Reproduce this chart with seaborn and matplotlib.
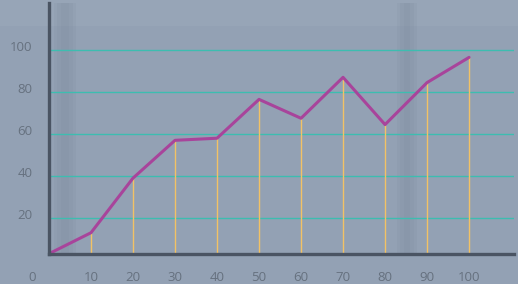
import matplotlib
matplotlib.use("Agg")
import matplotlib.pyplot as plt
import matplotlib.transforms as mtransforms
import seaborn as sns
import pandas as pd

# data
x_vals = [0, 10, 20, 30, 40, 50, 60, 70, 80, 90, 100]
y_vals = [3, 13, 39, 57, 58, 76.5, 67.5, 87, 64.5, 84.5, 96.5]
y_ticks = [20, 40, 60, 80, 100]
x_ticks = [0, 10, 20, 30, 40, 50, 60, 70, 80, 90, 100]

bg = "#93a1b4"
txt = "#66717f"
axis_col = "#4a5463"

sns.set_theme(style="white")
plt.rcParams["font.family"] = ["Open Sans", "DejaVu Sans"]

df = pd.DataFrame({"x": x_vals, "y": y_vals})

fig = plt.figure(figsize=(5.18, 2.84), dpi=100, facecolor=bg)
W, H = 518, 284
fig.patches.append(plt.Rectangle((0, 258 / H), 1, 26 / H, transform=fig.transFigure,
                                 color="#a3afbf", alpha=0.3, lw=0, zorder=-5))
ax = fig.add_axes([49 / W, (284 - 254) / H, 465 / W, 251 / H])
ax.set_facecolor("none")
ax.set_zorder(2)

# soft darker bands of the blurred backdrop (stacked for a blurry edge)
for c, hw in [(3.8, 2.6), (3.8, 1.8), (3.8, 1.0)]:
    ax.axvspan(c - hw, c + hw, color="#7a8798", alpha=0.12, lw=0, zorder=0, clip_on=False)
for c, hw in [(85.2, 2.4), (85.2, 1.6), (85.2, 0.8)]:
    ax.axvspan(c - hw, c + hw, color="#7a8798", alpha=0.12, lw=0, zorder=0, clip_on=False)

y0 = 2.86
ax.vlines(df["x"][1:], y0, df["y"][1:], color="#f2c266", lw=1.0, zorder=1)
sns.lineplot(data=df, x="x", y="y", ax=ax, color="#a8449b", lw=2.2, zorder=3)

ax.set_xlim(0, 110.7)
ax.set_ylim(y0, 122.4)
ax.set_yticks(y_ticks)
ax.set_xticks(x_ticks)
ax.grid(axis="y", color="#3dbdb0", lw=1.0, zorder=0)
ax.grid(axis="x", visible=False)
ax.set_xlabel("")
ax.set_ylabel("")

for s in ["top", "right"]:
    ax.spines[s].set_visible(False)
for s in ["left", "bottom"]:
    ax.spines[s].set_color(axis_col)
    ax.spines[s].set_linewidth(2.4)
    ax.spines[s].set_zorder(4)

ax.tick_params(axis="both", length=0, labelsize=9.5, labelcolor=txt)
ax.tick_params(axis="y", pad=12)
ax.tick_params(axis="x", pad=12)

up = mtransforms.ScaledTranslation(0, 4 / 100, fig.dpi_scale_trans)
for lab in ax.get_yticklabels():
    lab.set_transform(lab.get_transform() + up)
xl = ax.get_xticklabels()
left = mtransforms.ScaledTranslation(-17 / 100, 0, fig.dpi_scale_trans)
xl[0].set_transform(xl[0].get_transform() + left)

fig.savefig("out.png", dpi=100, facecolor=bg)
